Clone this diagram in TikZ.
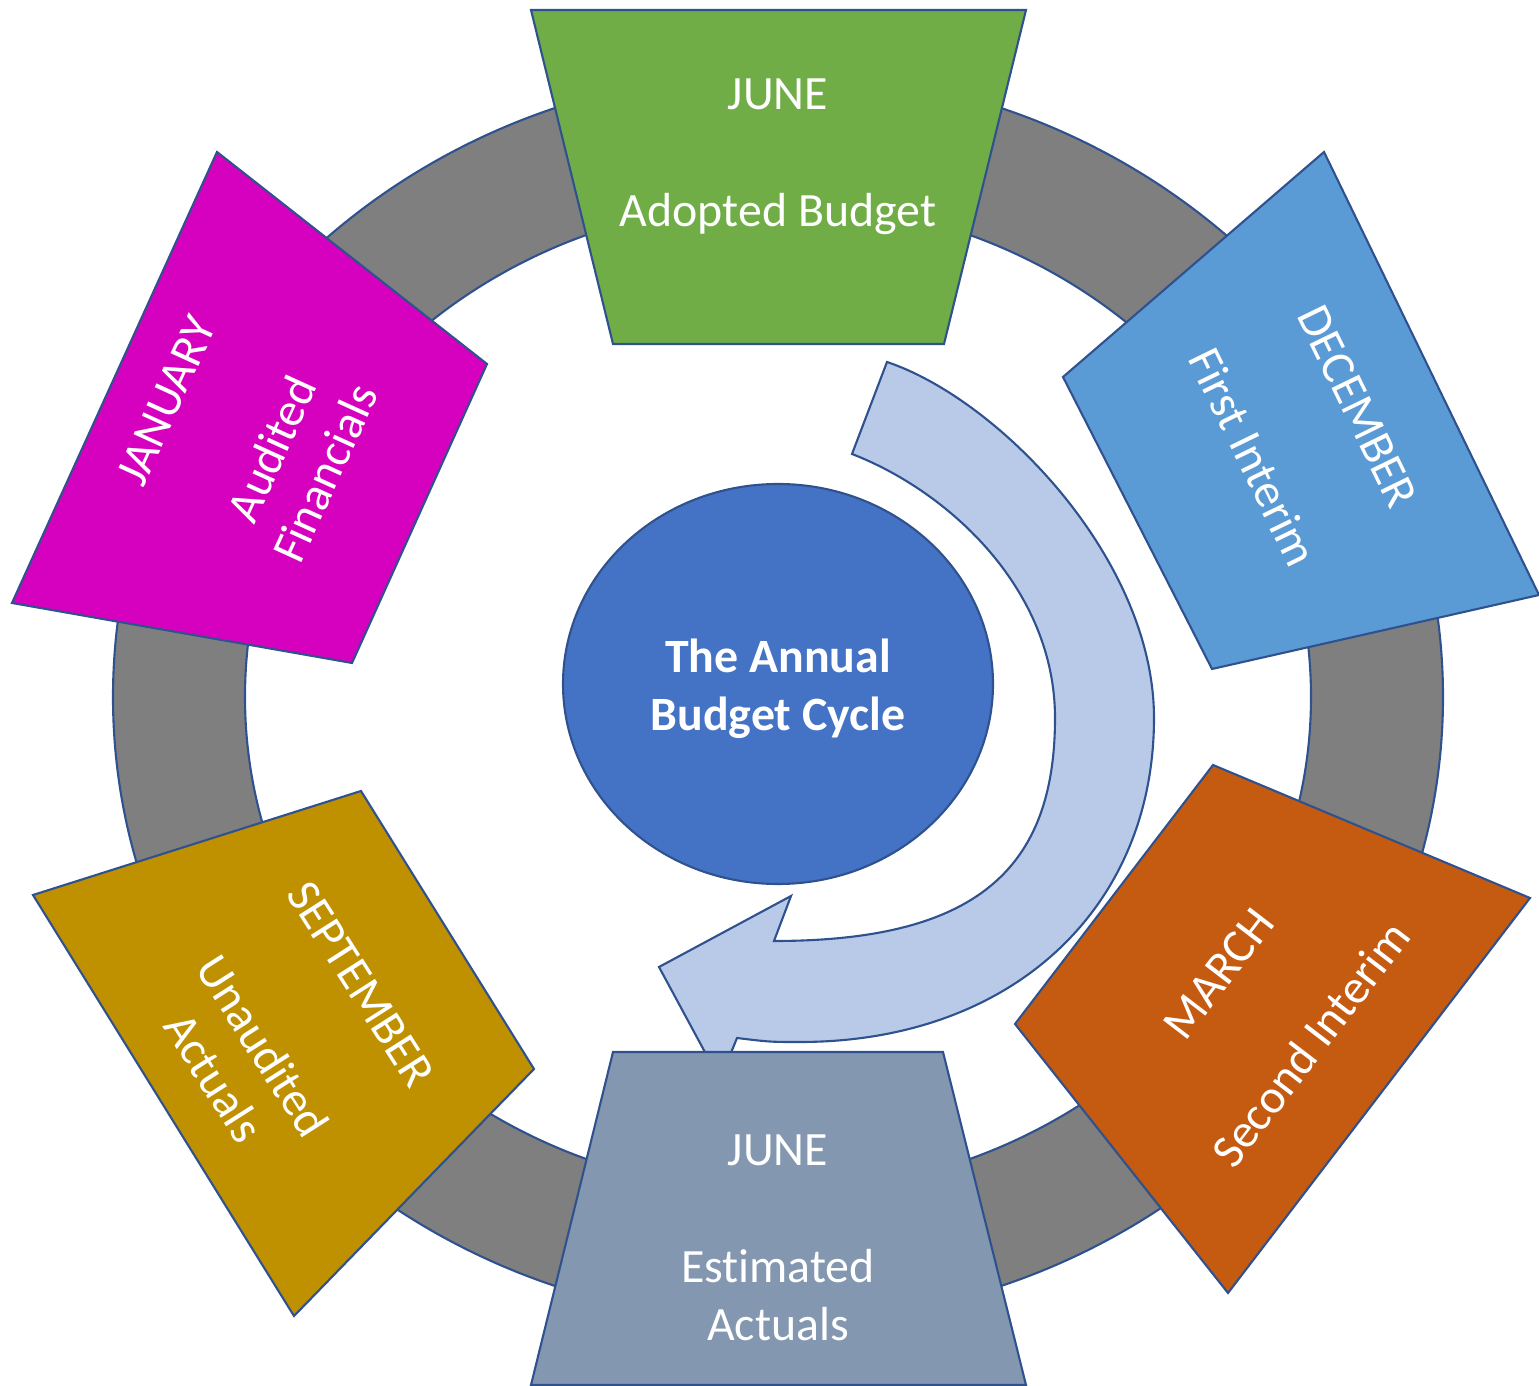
\documentclass[tikz,border=0pt]{standalone}
\usepackage{fontspec}
\setmainfont{Carlito}[Ligatures={NoCommon}]
\definecolor{edge}{HTML}{2F528F}
\definecolor{ringgray}{HTML}{7F7F7F}
\definecolor{hub}{HTML}{4472C4}
\definecolor{flow}{HTML}{B9CAE9}
\definecolor{adopted}{HTML}{70AD47}
\definecolor{first}{HTML}{5B9BD5}
\definecolor{second}{HTML}{C55A11}
\definecolor{estimated}{HTML}{8497B0}
\definecolor{unaudited}{HTML}{BF9000}
\definecolor{audited}{HTML}{D600BF}
\begin{document}
\begin{tikzpicture}[x=0.01cm,y=-0.01cm,
    block/.style={draw=edge,line width=0.6pt},
    label/.style={text=white,align=center,inner sep=0pt,
      font=\fontsize{13.6}{16.6}\selectfont}]
  \useasboundingbox (0,0) rectangle (1539,1386);
  % ring
  \draw[block,fill=ringgray,even odd rule]
    (778,697) ellipse [x radius=665,y radius=625]
    (778,697) ellipse [x radius=533,y radius=495];
  % circular arrow
  \draw[block,fill=flow] (887,362)
    .. controls (1000,400) and (1154,560) .. (1154,718)
    .. controls (1154,910) and (1010,1042) .. (800,1042)
    .. controls (770,1042) .. (737,1038)
    -- (720,1080) -- (659,967) -- (791,896) -- (774,941)
    .. controls (975,941) and (1055,870) .. (1055,718)
    .. controls (1055,590) and (950,492) .. (852,454) -- cycle;
  % centre
  \draw[block,fill=hub] (778,684) ellipse [x radius=215,y radius=200];
  \node[label,font=\bfseries\fontsize{13.6}{16.6}\selectfont] (title)
    at (778,689) {The Annual\\Budget Cycle};
  % stages
  \draw[block,fill=adopted] (531,10) -- (1026,10) -- (944,344) -- (613,344) -- cycle;
  \draw[block,fill=first] (1324,152) -- (1539,595) -- (1212,669) -- (1063,377) -- cycle;
  \draw[block,fill=second] (1213,765) -- (1530,898) -- (1228,1293) -- (1015,1024) -- cycle;
  \draw[block,fill=estimated] (613,1052) -- (943,1052) -- (1026,1385) -- (531,1385) -- cycle;
  \draw[block,fill=unaudited] (361,791) -- (534,1069) -- (294,1316) -- (33,895) -- cycle;
  \draw[block,fill=audited] (217,152) -- (487,364) -- (352,663) -- (12,603) -- cycle;
  \node[label] (jun1) at (778,157) {JUNE\\[16.6pt]Adopted Budget};
  \node[label,rotate=-64] (dec) at (1305,432) {DECEMBER\\[16.6pt]First Interim};
  \node[label,rotate=52.5] (mar) at (1265,1009) {MARCH\\[16.6pt]Second Interim};
  \node[label] (jun2) at (778,1238) {JUNE\\[16.6pt]Estimated\\Actuals};
  \node[label,rotate=-57.5] (sep) at (287,1031) {SEPTEMBER\\[16.6pt]Unaudited\\Actuals};
  \node[label,rotate=65.5] (jan) at (246,437) {JANUARY\\[16.6pt]Audited\\Financials};
\end{tikzpicture}
\end{document}
